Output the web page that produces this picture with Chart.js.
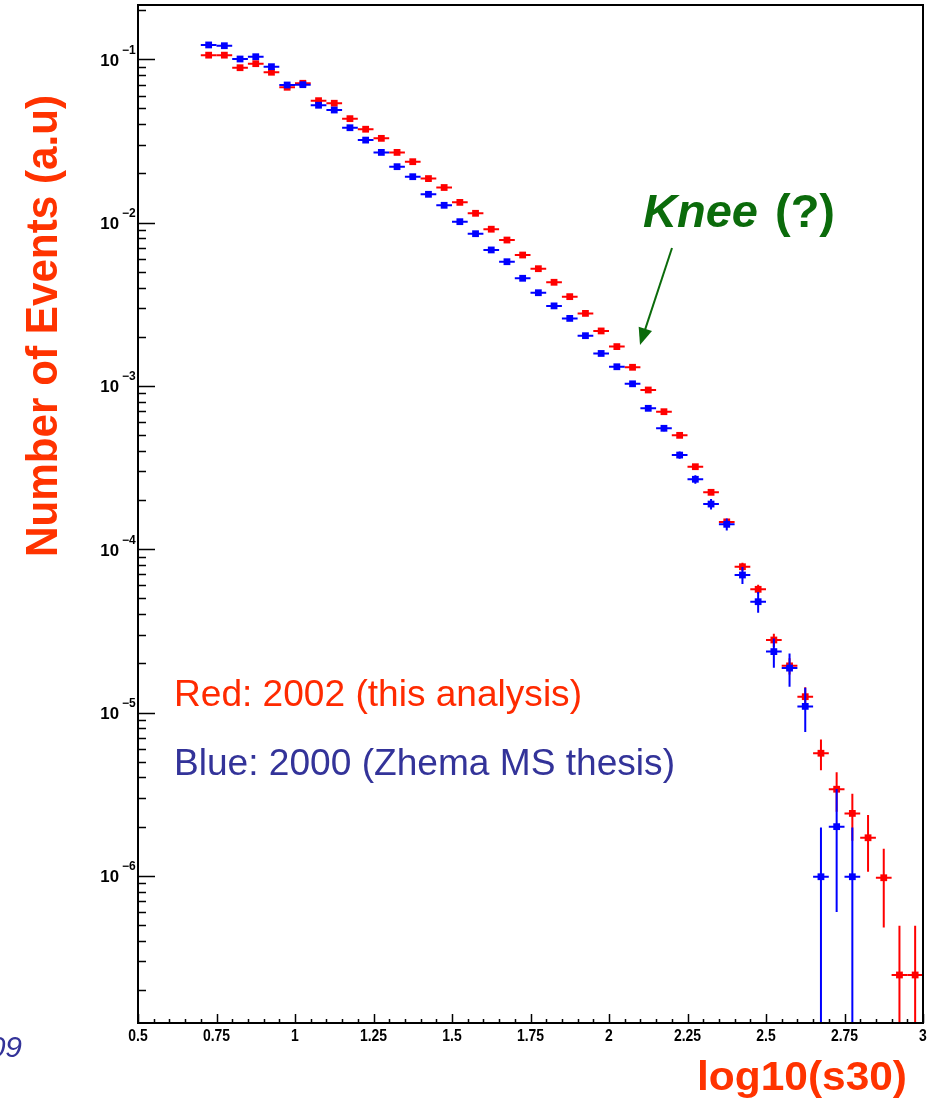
<!DOCTYPE html>
<html>
<head>
<meta charset="utf-8">
<script src="https://cdn.jsdelivr.net/npm/chart.js@4"></script>
<style>
  html, body { margin: 0; padding: 0; background: #fff; }
  #plot { display: block; }
</style>
</head>
<body>
<canvas id="plot" width="934" height="1099"></canvas>
<script>
// log10(s30) bin centres, bins are 0.05 wide
const binCenters = [
  0.725, 0.775, 0.825, 0.875, 0.925, 0.975, 1.025, 1.075, 1.125, 1.175,
  1.225, 1.275, 1.325, 1.375, 1.425, 1.475, 1.525, 1.575, 1.625, 1.675,
  1.725, 1.775, 1.825, 1.875, 1.925, 1.975, 2.025, 2.075, 2.125, 2.175,
  2.225, 2.275, 2.325, 2.375, 2.425, 2.475, 2.525, 2.575, 2.625, 2.675,
  2.725, 2.775, 2.825, 2.875, 2.925, 2.975
]
const binHalfWidth = 0.025

// 2002 sample
const redValues = [
  0.106, 0.106, 0.0888, 0.094, 0.0833, 0.0674, 0.0713, 0.0558, 0.0538, 0.0433,
  0.0373, 0.0328, 0.0269, 0.0236, 0.0186, 0.0164, 0.0133, 0.0114, 0.00911, 0.00782,
  0.00633, 0.00522, 0.00431, 0.00352, 0.00278, 0.00217, 0.00174, 0.0013, 0.000944, 0.000695,
  0.000498, 0.00032, 0.000223, 0.000147, 7.81e-5, 5.68e-5, 2.78e-5, 1.93e-5, 1.25e-5, 5.63e-6,
  3.39e-6, 2.41e-6, 1.71e-6, 9.73e-7, 2.47e-7, 2.47e-7
]
const redErrors = [
  1.6e-4, 1.6e-4, 1.5e-4, 1.5e-4, 1.4e-4, 1.3e-4, 1.3e-4, 1.2e-4, 1.2e-4, 1.0e-4,
  9.6e-5, 9.0e-5, 8.2e-5, 7.6e-5, 6.8e-5, 6.4e-5, 5.7e-5, 5.3e-5, 4.7e-5, 4.4e-5,
  4.0e-5, 3.6e-5, 3.3e-5, 2.9e-5, 2.6e-5, 2.3e-5, 2.1e-5, 1.8e-5, 1.5e-5, 1.3e-5,
  1.1e-5, 8.9e-6, 7.4e-6, 6.0e-6, 4.4e-6, 3.7e-6, 2.6e-6, 2.2e-6, 1.8e-6, 1.2e-6,
  9.2e-7, 7.7e-7, 6.5e-7, 4.9e-7, 2.47e-7, 2.47e-7
]

// 2000 sample, nothing above log10(s30) = 2.8
const blueValues = [
  0.1224, 0.1211, 0.1004, 0.1037, 0.0901, 0.0696, 0.0699, 0.0523, 0.0489, 0.0381,
  0.032, 0.0269, 0.022, 0.0191, 0.0149, 0.01276, 0.01013, 0.00855, 0.0068, 0.00576,
  0.00456, 0.00372, 0.00309, 0.00259, 0.00203, 0.00158, 0.00131, 0.00103, 0.000729, 0.00055,
  0.000377, 0.000268, 0.000189, 0.000142, 6.95e-5, 4.77e-5, 2.36e-5, 1.87e-5, 1.09e-5, 9.87e-7,
  2.0e-6, 9.87e-7
]
const blueErrors = [
  3.5e-4, 3.5e-4, 3.1e-4, 3.2e-4, 3.0e-4, 2.6e-4, 2.6e-4, 2.3e-4, 2.2e-4, 1.9e-4,
  1.8e-4, 1.6e-4, 1.5e-4, 1.4e-4, 1.2e-4, 1.1e-4, 1.0e-4, 9.2e-5, 8.2e-5, 7.5e-5,
  6.7e-5, 6.1e-5, 5.5e-5, 5.1e-5, 4.5e-5, 3.9e-5, 3.6e-5, 3.2e-5, 2.7e-5, 2.3e-5,
  1.9e-5, 1.6e-5, 1.4e-5, 1.2e-5, 8.3e-6, 6.9e-6, 4.8e-6, 4.3e-6, 3.3e-6, 9.9e-7,
  1.4e-6, 9.9e-7
]

const xTickValues = [0.5, 0.75, 1, 1.25, 1.5, 1.75, 2, 2.25, 2.5, 2.75, 3]
const xTickLabels = ["0.5", "0.75", "1", "1.25", "1.5", "1.75", "2", "2.25", "2.5", "2.75", "3"]
const yTickExponents = [-1, -2, -3, -4, -5, -6]

const yTitle = "Number of Events (a.u)"
const xTitle = "log10(s30)"
const redNote = "Red: 2002 (this analysis)"
const blueNote = "Blue: 2000 (Zhema MS thesis)"

const RED = "#ff0000"
const BLUE = "#0000ff"
const FONT = "'Liberation Sans', Arial, sans-serif"

function toPoints(values, errors) {
  return values.map((v, i) => ({ x: binCenters[i], y: v, err: errors[i] }))
}

// draw text squeezed/stretched horizontally to a given width
function fitText(ctx, str, x, y, font, color, width, align) {
  ctx.save()
  ctx.font = font
  ctx.fillStyle = color
  ctx.textAlign = align || "left"
  const w = ctx.measureText(str).width
  ctx.translate(x, y)
  ctx.scale(width / w, 1)
  ctx.fillText(str, 0, 0)
  ctx.restore()
}

// vertical + horizontal error bars, drawn just before each dataset's markers
const errorBars = {
  id: "errorBars",
  beforeDatasetDraw(chart, args) {
    const ds = chart.data.datasets[args.index]
    const { ctx, chartArea: a, scales: { x, y } } = chart
    ctx.save()
    ctx.beginPath()
    ctx.rect(a.left, a.top, a.right - a.left, a.bottom - a.top)
    ctx.clip()
    ctx.strokeStyle = ds.backgroundColor
    ctx.lineWidth = 2
    ds.data.forEach(p => {
      const px = x.getPixelForValue(p.x)
      const py = y.getPixelForValue(p.y)
      const lo = p.y - p.err
      const top = y.getPixelForValue(p.y + p.err)
      const bottom = lo > 0 ? y.getPixelForValue(lo) : a.bottom
      ctx.beginPath()
      ctx.moveTo(x.getPixelForValue(p.x - binHalfWidth), py)
      ctx.lineTo(x.getPixelForValue(p.x + binHalfWidth), py)
      ctx.moveTo(px, top)
      ctx.lineTo(px, bottom)
      ctx.stroke()
    })
    ctx.restore()
  }
}

// frame, inward ticks, tick labels, titles and notes
const decorations = {
  id: "decorations",
  afterDraw(chart) {
    const { ctx, chartArea: a, scales: { x, y } } = chart
    ctx.save()

    ctx.strokeStyle = "#000"
    ctx.lineWidth = 2
    ctx.strokeRect(a.left, a.top, a.right - a.left, a.bottom - a.top)

    // x ticks: major every 0.25, minor every 0.05
    ctx.lineWidth = 1.5
    ctx.beginPath()
    for (let i = 0; i <= 50; i++) {
      const v = 0.5 + i * 0.05
      const px = Math.round(x.getPixelForValue(v)) + 0.5
      const len = i % 5 === 0 ? 9 : 4
      ctx.moveTo(px, a.bottom)
      ctx.lineTo(px, a.bottom - len)
    }
    // y ticks: decades and 2..9 subdivisions
    for (let e = -7; e <= 0; e++) {
      for (let k = 1; k <= 9; k++) {
        const v = k * Math.pow(10, e)
        if (v < y.min || v > y.max) continue
        const py = Math.round(y.getPixelForValue(v)) + 0.5
        ctx.moveTo(a.left, py)
        ctx.lineTo(a.left + (k === 1 ? 17 : 8), py)
      }
    }
    ctx.stroke()

    ctx.fillStyle = "#000"
    ctx.textBaseline = "middle"
    xTickValues.forEach((v, i) => {
      const px = x.getPixelForValue(v)
      ctx.save()
      ctx.translate(px, a.bottom + 13)
      ctx.scale(0.82, 1)
      ctx.font = "bold 17px " + FONT
      ctx.textAlign = "center"
      ctx.fillText(xTickLabels[i], 0, 0)
      ctx.restore()
    })
    yTickExponents.forEach(e => {
      const py = y.getPixelForValue(Math.pow(10, e))
      ctx.save()
      ctx.translate(119, py + 2)
      ctx.scale(1.05, 1)
      ctx.font = "bold 16px " + FONT
      ctx.textAlign = "right"
      ctx.fillText("10", 0, 0)
      ctx.restore()
      ctx.font = "bold 12px " + FONT
      ctx.textAlign = "left"
      ctx.fillText(String(e).replace("-", "\u2212"), 122, py - 9)
    })

    ctx.textBaseline = "alphabetic"

    // axis titles
    ctx.save()
    ctx.translate(57, 326)
    ctx.rotate(-Math.PI / 2)
    fitText(ctx, yTitle, 0, 0, "bold 44px " + FONT, "#ff3300", 462, "center")
    ctx.restore()
    fitText(ctx, xTitle, 697, 1090, "bold 40px " + FONT, "#ff3300", 210, "left")

    // sample notes
    fitText(ctx, redNote, 174, 706, "37px " + FONT, "#ff2a00", 408, "left")
    fitText(ctx, blueNote, 174, 775, "37px " + FONT, "#333399", 501, "left")

    // knee annotation
    ctx.fillStyle = "#0b6b0b"
    ctx.font = "italic bold 47px " + FONT
    ctx.fillText("Knee", 643, 227)
    ctx.font = "bold 47px " + FONT
    ctx.fillText("(?)", 775, 227)

    const x0 = 672, y0 = 248, x1 = 640, y1 = 345
    const ang = Math.atan2(y1 - y0, x1 - x0)
    ctx.strokeStyle = "#0b6b0b"
    ctx.lineWidth = 2
    ctx.beginPath()
    ctx.moveTo(x0, y0)
    ctx.lineTo(x1 - 12 * Math.cos(ang), y1 - 12 * Math.sin(ang))
    ctx.stroke()
    ctx.beginPath()
    ctx.moveTo(x1, y1)
    ctx.lineTo(x1 - 17 * Math.cos(ang) + 7 * Math.sin(ang), y1 - 17 * Math.sin(ang) - 7 * Math.cos(ang))
    ctx.lineTo(x1 - 17 * Math.cos(ang) - 7 * Math.sin(ang), y1 - 17 * Math.sin(ang) + 7 * Math.cos(ang))
    ctx.closePath()
    ctx.fillStyle = "#0b6b0b"
    ctx.fill()

    // footer date, cut at the page edge
    ctx.fillStyle = "#333399"
    ctx.font = "italic 30px " + FONT
    ctx.textAlign = "right"
    ctx.fillText("09", 22, 1057)

    ctx.restore()
  }
}

const ctx = document.getElementById("plot").getContext("2d")

new Chart(ctx, {
  type: "scatter",
  data: {
    datasets: [
      {
        label: blueNote,
        data: toPoints(blueValues, blueErrors),
        backgroundColor: BLUE,
        borderColor: BLUE
      },
      {
        label: redNote,
        data: toPoints(redValues, redErrors),
        backgroundColor: RED,
        borderColor: RED
      }
    ]
  },
  options: {
    responsive: false,
    animation: false,
    layout: {
      padding: { left: 138, top: 5, right: 11, bottom: 76 }
    },
    elements: {
      point: {
        pointStyle: "rect",
        radius: 4.8,
        borderWidth: 0,
        hoverRadius: 4.8
      }
    },
    scales: {
      x: { type: "linear", min: 0.5, max: 3, display: false },
      y: { type: "logarithmic", min: 1.255e-7, max: 0.215, display: false }
    },
    plugins: {
      legend: { display: false },
      tooltip: { enabled: false }
    },
    events: []
  },
  plugins: [errorBars, decorations]
})
</script>
</body>
</html>
